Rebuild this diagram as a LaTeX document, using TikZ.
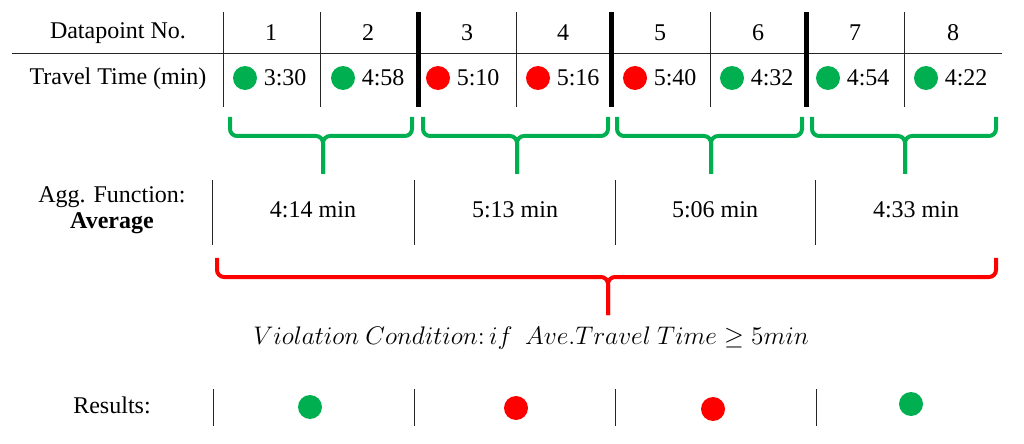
\documentclass[tikz,border=0pt]{standalone}
\usepackage{fontspec}
\setmainfont{Liberation Serif}
\usepackage{tikz}
\usetikzlibrary{positioning}
\definecolor{okgreen}{HTML}{00B050}
\definecolor{badred}{HTML}{FF0000}

\begin{document}
\begin{tikzpicture}[x=0.5pt,y=-0.5pt,
  every node/.style={font=\fontsize{12}{13}\selectfont},
  dot/.style={circle,inner sep=0pt,minimum size=12pt},
  rule/.style={line width=0.5pt,black!85},
  sepline/.style={line width=2.5pt,black},
  grpbrace/.style={line width=2pt,rounded corners=3.5pt}]
  \useasboundingbox (0,0) rectangle (1024,444);
  % datapoint table
  \node (hdr) at (118,33) {Datapoint No.};
  \node (tt) at (118,79) {Travel Time (min)};
  \draw[rule] (12,54) -- (1002,54);
  \foreach \x in {223,320,516,710,904} \draw[rule] (\x,12) -- (\x,107);
  \foreach \x in {418,611,806} \draw[sepline] (\x,12) -- (\x,107);
  \foreach \x [count=\i] in {271,368,467,563,660,758,855,953}
    \node (n\i) at (\x,33) {\i};
  \foreach \x/\c/\v [count=\i] in {245/okgreen/3:30,343/okgreen/4:58,438/badred/5:10,538/badred/5:16,
      635/badred/5:40,732/okgreen/4:32,828/okgreen/4:54,926/okgreen/4:22}{
    \node[dot,fill=\c] (d\i) at (\x,78) {};
    \node[right=0pt of d\i,inner sep=3pt] (v\i) {\v};
  }
  % pairs grouped
  \foreach \a/\m/\b in {230/323/412,423/517/608,617/711/802,812/905/996}{
    \draw[grpbrace,okgreen] (\a,117) -- (\a,136) -- (\m,136) -- (\m,174);
    \draw[grpbrace,okgreen] (\b,117) -- (\b,136) -- (\m,136) -- (\m,174);
  }
  % aggregation row
  \node[align=center] (agg) at (112,210) {Agg. Function:\\\textbf{Average}};
  \foreach \x in {212,414,615,815} \draw[rule] (\x,180) -- (\x,245);
  \foreach \x/\v [count=\i] in {313/4:14,515/5:13,715/5:06,916/4:33}
    \node (a\i) at (\x,210) {\v\ min};
  \draw[grpbrace,badred] (217,258) -- (217,277) -- (608,277) -- (608,315);
  \draw[grpbrace,badred] (996,258) -- (996,277) -- (608,277) -- (608,315);
  \node[transform shape,scale=1.06] (cond) at (531,338)
    {$Violation\ Condition\colon if\ \ Ave.Travel\ Time \geq 5min$};
  % results row
  \node (res) at (112,405) {Results:};
  \foreach \x in {213,414,615,816} \draw[rule] (\x,389) -- (\x,426);
  \foreach \x/\y/\c [count=\i] in {310/407/okgreen,516/408/badred,713/409/badred,911/404/okgreen}
    \node[dot,fill=\c] (r\i) at (\x,\y) {};
\end{tikzpicture}
\end{document}
